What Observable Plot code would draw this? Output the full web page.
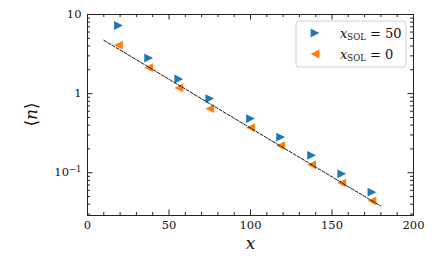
<!DOCTYPE html>
<html>
<head>
<meta charset="utf-8">
<script src="https://cdn.jsdelivr.net/npm/d3@7"></script>
<script src="https://cdn.jsdelivr.net/npm/@observablehq/plot@0.6"></script>
<style>
  html, body { margin: 0; padding: 0; background: #fff; }
  #chart svg { display: block; }
  #chart svg text { font-family: "DejaVu Serif", serif; }
</style>
</head>
<body>
<div id="chart"></div>
<script>
// ---- data ----
const xPositions = [19, 37.5, 56, 75, 100, 118.5, 137.5, 156, 174.5];
const nSol50 = [7.26, 2.82, 1.53, 0.865, 0.483, 0.282, 0.166, 0.097, 0.0568];
const nSol0  = [4.09, 2.13, 1.18, 0.646, 0.371, 0.22, 0.126, 0.074, 0.0442];
const fitX = [10, 180];
const fitY = [4.73, 0.0378];
const seriesLabels = ["50", "0"];
const xMajorTicks = [0, 50, 100, 150, 200];
const yMajorTicks = [0.1, 1, 10];
const yTickMain = ["10", "1", "10"];
const yTickSup = ["\u22121", "", ""];

// ---- derived tables ----
const blue = "#1f77b4", orange = "#ff7f0e";
const s50 = xPositions.map((x, i) => ({x, y: nSol50[i]}));
const s0 = xPositions.map((x, i) => ({x, y: nSol0[i]}));
const fit = fitX.map((x, i) => ({x, y: fitY[i]}));
const xMinorTicks = d3.range(0, 201, 10).filter(v => v % 50 !== 0);
const yMinorTicks = [];
for (const dec of [0.01, 0.1, 1]) for (let m = 2; m <= 9; m++) yMinorTicks.push(+(m * dec).toPrecision(3));
const yDomain = [0.0288, 10];
const yMinorIn = yMinorTicks.filter(v => v >= yDomain[0] && v <= yDomain[1]);
const yPlain = yMajorTicks.filter((d, i) => yTickSup[i] === "");
const ySup = yMajorTicks.filter((d, i) => yTickSup[i] !== "");
const labelOf = d => yTickMain[yMajorTicks.indexOf(d)];
const supOf = d => yTickSup[yMajorTicks.indexOf(d)];

const triRight = {draw(ctx, size) { const h = Math.sqrt(size / Math.PI); ctx.moveTo(h, 0); ctx.lineTo(-h, -h); ctx.lineTo(-h, h); ctx.closePath(); }};
const triLeft = {draw(ctx, size) { const h = Math.sqrt(size / Math.PI); ctx.moveTo(-h, 0); ctx.lineTo(h, -h); ctx.lineTo(h, h); ctx.closePath(); }};
const R = 4.4;

const W = 435, H = 269, mL = 87, mR = 22, mT = 14, mB = 54;
const fw = W - mL - mR, fh = H - mT - mB;
const major = 5.5, minor = 3;
const axisColor = "#222";
const font = "'DejaVu Serif', serif";

const chart = Plot.plot({
  width: W, height: H,
  marginLeft: mL, marginRight: mR, marginTop: mT, marginBottom: mB,
  x: {domain: [0, 200], axis: null},
  y: {type: "log", domain: yDomain, axis: null},
  marks: [
    Plot.dot(s50, {x: "x", y: "y", symbol: triRight, r: R, fill: blue, stroke: "none"}),
    Plot.dot(s0, {x: "x", y: "y", symbol: triLeft, r: R, fill: orange, stroke: "none"}),
    Plot.line(fit, {x: "x", y: "y", stroke: "#000", strokeWidth: 0.9, strokeDasharray: "3.2,1.6"}),
    Plot.tickX(xMajorTicks, {x: d => d, insetTop: fh - major, stroke: axisColor}),
    Plot.tickX(xMajorTicks, {x: d => d, insetBottom: fh - major, stroke: axisColor}),
    Plot.tickX(xMinorTicks, {x: d => d, insetTop: fh - minor, stroke: axisColor}),
    Plot.tickX(xMinorTicks, {x: d => d, insetBottom: fh - minor, stroke: axisColor}),
    Plot.tickY(yMajorTicks, {y: d => d, insetRight: fw - major, stroke: axisColor}),
    Plot.tickY(yMajorTicks, {y: d => d, insetLeft: fw - major, stroke: axisColor}),
    Plot.tickY(yMinorIn, {y: d => d, insetRight: fw - minor, stroke: axisColor}),
    Plot.tickY(yMinorIn, {y: d => d, insetLeft: fw - minor, stroke: axisColor}),
    Plot.frame({stroke: axisColor, strokeWidth: 1}),
    Plot.text(xMajorTicks, {x: d => d, text: d => String(d), frameAnchor: "bottom", dy: 13, fontSize: 11.5, fontFamily: font, fill: "#111"}),
    Plot.text(yPlain, {y: d => d, text: labelOf, frameAnchor: "left", dx: -6, textAnchor: "end", fontSize: 11.5, fontFamily: font, fill: "#111"}),
    Plot.text(ySup, {y: d => d, text: labelOf, frameAnchor: "left", dx: -18.5, textAnchor: "end", fontSize: 11.5, fontFamily: font, fill: "#111"}),
    Plot.text(ySup, {y: d => d, text: supOf, frameAnchor: "left", dx: -6, dy: -3.5, textAnchor: "end", fontSize: 8.5, fontFamily: font, fill: "#111"}),
    Plot.text(["x"], {text: d => d, frameAnchor: "bottom", dy: 33, fontSize: 17, fontStyle: "italic", fontFamily: font, fill: "#111"})
  ]
});

document.getElementById("chart").appendChild(chart);

const svg = d3.select(chart);
const yl = svg.append("text")
  .attr("transform", `translate(32,${mT + fh / 2}) rotate(-90)`)
  .style("text-anchor", "middle").attr("dominant-baseline", "middle")
  .style("font-size", "17px").attr("fill", "#111");
yl.append("tspan").text("\u27E8");
yl.append("tspan").style("font-style", "italic").text("n");
yl.append("tspan").text("\u27E9");

const lx = 296, ly = 21, lw = 110, lh = 46;
svg.append("rect").attr("x", lx).attr("y", ly).attr("width", lw).attr("height", lh)
  .attr("rx", 3).attr("fill", "#fff").attr("fill-opacity", 0.8).attr("stroke", "#d0d0d0").attr("stroke-width", 1);
const symSize = Math.PI * R * R;
[[triRight, blue], [triLeft, orange]].forEach(([sym, col], i) => {
  const cy = 33 + i * 21;
  svg.append("path").attr("d", d3.symbol().type(sym).size(symSize)())
    .attr("transform", `translate(315,${cy})`).attr("fill", col);
  const t = svg.append("text").attr("x", 340).attr("y", cy + 4.5)
    .style("text-anchor", "start")
    .style("font-size", "13px").attr("fill", "#111");
  t.append("tspan").style("font-style", "italic").text("x");
  t.append("tspan").style("font-size", "8.5px").attr("dy", 2.5).text("SOL");
  t.append("tspan").attr("dy", -2.5).text(" = " + seriesLabels[i]);
});
</script>
</body>
</html>
